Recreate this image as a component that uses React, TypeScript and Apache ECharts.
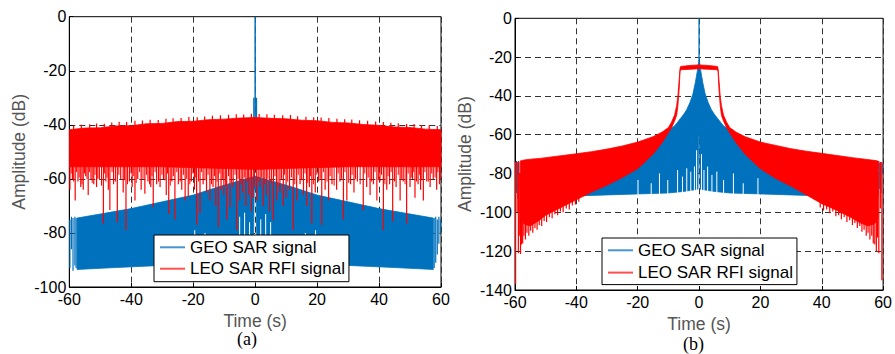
import React, { useEffect, useRef } from "react";
import * as echarts from "echarts";

// ---------------- Panel (a) data ----------------
const A_RED_UPPER_X = [-60, -55, -50, -45, -40, -35, -30, -25, -20, -15, -10, -5, 0, 5, 10, 15, 20, 25, 30, 35, 40, 45, 50, 55, 60];
const A_RED_UPPER = [-41.8, -41.2, -41.1, -40.4, -40.3, -39.6, -39.5, -38.8, -38.7, -38.1, -37.9, -37.5, -37.3, -37.6, -37.8, -38.3, -38.5, -39.1, -39.3, -39.9, -40.2, -40.8, -41, -41.6, -41.8];
const A_RED_LOWER_X = [-60, -30, 0, 30, 60];
const A_RED_LOWER = [-55.5, -55.5, -56.5, -55.5, -55.5];
const A_RED_TOP_X = [-58.6, -56.1, -53.4, -51.2, -48.7, -46.3, -43.9, -41.5, -38.8, -36.4, -33.9, -31.3, -28.8, -26.5, -23.9, -21.4, -18.7, -16.3, -13.8, -11.2, -8.6, -6.1, -3.7, -1.2, 1.3, 3.8, 6.2, 8.9, 11.4, 13.7, 16.4, 18.9, 21.3, 23.8, 26.4, 28.9, 31.2, 33.7, 36.3, 38.9, 41.4, 43.8, 46.2, 48.9, 51.3, 53.7, 56.2, 58.8];
const A_RED_TOP_HIGH = [-40.3, -40.0, -39.8, -39.5, -39.6, -39.1, -38.9, -39.0, -38.5, -38.4, -38.1, -38.2, -37.8, -37.6, -37.5, -37.1, -37.2, -36.9, -36.6, -36.5, -36.3, -36.1, -36.2, -35.9, -36.0, -36.1, -36.3, -36.5, -36.4, -36.8, -37.0, -37.2, -37.3, -37.5, -37.8, -37.9, -38.0, -38.3, -38.5, -38.8, -39.0, -39.2, -39.4, -39.7, -39.7, -40.1, -40.2, -40.4];
const A_RED_SPIKE_X = [-59.8, -59.0, -58.1, -57.2, -56.3, -55.5, -54.7, -53.9, -53.0, -52.1, -51.2, -50.3, -49.0, -48.2, -47.4, -46.9, -45.7, -44.5, -43.4, -42.6, -41.7, -40.6, -39.7, -38.8, -37.9, -36.8, -35.6, -34.6, -33.7, -32.9, -31.8, -30.7, -29.6, -28.7, -27.9, -26.9, -25.9, -24.8, -23.7, -22.6, -21.6, -20.6, -19.6, -18.9, -17.8, -16.8, -15.7, -14.6, -13.6, -12.7, -11.9, -11.0, -10.1, -9.2, -8.1, -7.1, -6.0, -5.0, -4.0, -3.0, -2.1, -1.2, -0.6, 0.5, 1.6, 2.6, 3.6, 4.7, 5.9, 6.9, 8.0, 9.1, 10.0, 11.1, 12.3, 13.4, 14.5, 15.6, 16.6, 17.5, 18.3, 19.4, 20.5, 21.5, 22.6, 23.7, 24.8, 26.3, 27.4, 28.5, 29.6, 30.8, 31.9, 33.0, 34.9, 36.0, 37.1, 38.2, 39.3, 40.3, 41.4, 42.5, 43.4, 44.4, 45.5, 46.8, 47.8, 48.9, 50.0, 50.8, 51.6, 52.6, 53.4, 54.3, 55.4, 56.5, 57.5, 58.6, 59.5];
const A_RED_SPIKE_LOW = [-64, -60, -68, -61, -63, -64, -59, -66, -60, -62, -63, -60, -76.5, -61, -64, -71.5, -62, -76, -60, -65, -79, -61, -63, -68, -60, -64, -65.5, -61, -63, -70.5, -62, -63, -60, -66, -73, -61, -75, -62, -64, -68, -66.7, -61, -64, -77, -72.8, -62, -65, -68, -63, -70, -77.8, -64, -66, -75, -70.4, -63, -79, -68, -65, -70, -66, -72, -67, -68, -63, -70, -66, -72, -75.3, -68, -65, -70, -67, -64, -79, -68, -62, -66, -70, -63, -76.5, -65, -61, -77, -64, -68, -62, -64, -61, -75, -68, -62, -65, -61, -71.6, -63, -66, -62, -68, -61, -79, -64, -62, -75.8, -63, -68, -61, -76.5, -63, -60, -67, -62, -64, -68, -61, -63, -60, -64, -62];
const A_RED_SHALLOW_X = [-59.4, -58.6, -57.7, -56.8, -55.9, -55.1, -54.3, -53.5, -52.6, -51.7, -50.8, -49.6, -48.6, -47.8, -46.2, -45.1, -44.0, -42.2, -41.2, -40.1, -39.2, -38.4, -37.3, -36.2, -35.1, -34.1, -33.3, -32.3, -31.2, -30.1, -29.1, -28.3, -27.4, -26.4, -25.3, -24.2, -23.1, -22.1, -21.1, -20.1, -19.2, -18.3, -17.3, -16.2, -15.2, -14.1, -13.1, -12.3, -11.4, -10.5, -9.6, -8.6, -7.6, -6.5, -5.5, -4.5, -3.5, -2.5, -1.6, -0.2, 1.0, 2.1, 3.1, 4.1, 5.3, 6.4, 7.4, 8.5, 9.5, 10.5, 11.7, 12.8, 13.9, 15.0, 16.1, 17.0, 17.9, 18.8, 19.9, 21.0, 22.1, 23.2, 24.2, 25.5, 26.8, 27.9, 29.0, 30.2, 31.3, 32.4, 33.9, 35.4, 36.5, 37.6, 38.7, 39.8, 40.8, 41.9, 42.9, 43.9, 45.0, 46.2, 47.3, 48.4, 49.4, 50.4, 51.2, 52.1, 53.0, 53.8, 54.8, 55.9, 57.0, 58.1, 59.0, 59.8];
const A_RED_SHALLOW_LOW = [-58, -61, -57.5, -59.5, -62, -58, -60, -57.5, -61.5, -58.5, -60, -62.5, -58, -59.5, -57.5, -61, -58.5, -60.5, -62, -58, -59, -61.5, -57.5, -60, -58.5, -62, -59, -57.5, -61, -58.5, -60.5, -58, -62.5, -59, -57.5, -61, -58.5, -60, -62, -58, -59.5, -61, -57.5, -60.5, -58.5, -62, -59, -61, -58, -60, -62.5, -59, -61.5, -58.5, -60, -62, -59.5, -61, -60, -63, -61, -59.5, -62, -60, -61.5, -59, -62.5, -60, -58.5, -61, -59.5, -62, -58.5, -60.5, -58, -61.5, -59, -62, -58.5, -60, -57.5, -61, -59, -62.5, -58, -60, -57.5, -61.5, -58.5, -60, -62, -58, -59.5, -61, -57.5, -60.5, -58.5, -62, -59, -57.5, -61, -58.5, -60, -62, -58, -59.5, -57.5, -61, -58.5, -60.5, -57.5, -61, -58, -59.5, -57.5, -60];
const A_RED_SPIKE_FROM = -54;
const A_BLUE_UPPER_X = [-57.5, -50, -40, -30, -20, -12, -6, 0, 6, 12, 20, 30, 40, 50, 57.5];
const A_BLUE_UPPER = [-74.5, -73, -71, -68.5, -66, -63, -61, -59, -61, -63, -66, -68.5, -71, -73, -74.5];
const A_BLUE_LOWER_X = [-57.5, -45, -30, -15, -0.6, -0.3, 0.3, 0.6, 15, 30, 45, 57.5];
const A_BLUE_LOWER = [-93.5, -92.8, -92, -91.2, -90.5, -64, -64, -90.5, -91.2, -92, -92.8, -93.5];
const A_BLUE_EDGE_X = [-59.8, -59.3, -58.8, -58.2, -57.8, 57.8, 58.3, 58.8, 59.3, 59.8];
const A_BLUE_EDGE_TOP = [-75, -74, -74.5, -74, -74.5, -74.5, -74, -75, -74, -75];
const A_BLUE_EDGE_LOW = [-93, -86, -94, -92, -93, -93, -91, -88, -84, -80];
const A_BLUE_GAP_X = [-19.5, -16.2, -5.0, -3.4, -1.8, 1.8, 3.4, 5.0, 16.2, 19.5];
const A_BLUE_GAP_TOP = [-79, -80, -74, -72.5, -76, -75, -73, -76, -80, -79];
const A_BLUE_GAP_LOW = [-82, -82, -82, -82, -82, -82, -82, -82, -82, -82];
const A_PEAK_X = [0, -0.4, 0.4];
const A_PEAK_LOW = [-37, -37.5, -37.5];
const A_PEAK_HIGH = [0, -30, -30];

// ---------------- Panel (b) data ----------------
const B_RED_X = [-58.3, -57, -55, -52, -50, -45, -40, -35, -30, -25, -20, -15, -12, -10, -9, -8, -7.3, -6.9, -6.5, -6.2, -6, -3, 0, 3, 6, 6.2, 6.5, 6.9, 7.3, 8, 9, 10, 12, 15, 20, 25, 30, 35, 40, 45, 50, 52, 55, 57, 58.3];
const B_RED_UPPER = [-73.5, -73, -72.6, -72.2, -71.8, -70.8, -69.8, -68.7, -67.4, -65.8, -63.8, -61, -58.6, -56.3, -53.6, -50, -45, -40, -32, -25.8, -24.8, -24.3, -24, -24.3, -24.8, -25.8, -32, -40, -45, -50, -53.6, -56.3, -58.6, -61, -63.8, -65.5, -67.2, -68.5, -69.6, -70.7, -71.8, -72.2, -72.8, -73.2, -73.5];
const B_RED_LOWER = [-104, -106, -107, -104, -101.5, -97.5, -93.5, -89.5, -86, -82, -77.5, -70, -64, -59, -56.5, -53, -50, -45, -37, -27.5, -26.5, -26.3, -26, -26.3, -26.5, -27.5, -37, -45, -50, -53, -56.5, -59, -64, -70, -77.5, -82.5, -86.5, -91, -95.5, -99, -103, -105, -107, -106, -104];
const B_RED_SPIKE_X = [-59.8, -59.3, -58.9, -58.6, -58.2, -57.9, -57.5, -57.1, -56.6, -56.1, -55.5, -54.9, -54.2, -53.5, -52.8, -52.1, -51.3, -50.5, -49.7, -48.8, -47.9, -47.0, -46.1, -45.2, -44.3, -43.3, -42.3, -41.3, -40.3, -39.2, 39.5, 40.6, 41.6, 42.6, 43.6, 44.6, 45.5, 46.4, 47.3, 48.2, 49.1, 50.0, 50.8, 51.6, 52.4, 53.1, 53.8, 54.5, 55.1, 55.7, 56.3, 56.8, 57.3, 57.8, 58.2, 58.6, 59.1, 59.6];
const B_RED_SPIKE_TOP = [-74, -74, -73.5, -80, -80, -90, -100, -100, -100, -100, -100, -100, -100, -100, -98, -98, -96, -96, -95, -94, -93, -92, -92, -91, -90, -90, -89, -88, -88, -87, -88, -89, -90, -91, -92, -93, -94, -95, -96, -97, -98, -99, -100, -100, -101, -102, -102, -103, -104, -104, -104, -100, -90, -80, -80, -73.5, -74, -74];
const B_RED_SPIKE_LOW = [-137, -100, -121, -112, -121.5, -116.5, -116, -112, -114, -110.5, -112, -109.5, -110.5, -108, -109, -106.5, -107, -104.5, -105, -102.5, -103, -101, -101.5, -99.5, -100, -98, -98.5, -96.5, -96, -94.5, -97.5, -99, -98.5, -100.5, -99.5, -102, -101.5, -103.5, -102.5, -105, -104, -106.5, -105.5, -108, -107, -110, -109, -112, -110.5, -114, -112, -116, -116.5, -120.2, -113, -121, -98, -135];
const B_BLUE_UPPER_X = [-57.5, -40, -30, -20, -15, -12, -10, -8, -7, -6, -5, -4, -3, -2, -1.2, -0.6, -0.2, 0, 0.2, 0.6, 1.2, 2, 3, 4, 5, 6, 7, 8, 10, 12, 15, 20, 30, 40, 57.5];
const B_BLUE_UPPER = [-75, -72, -70, -67, -63.5, -60.5, -57.5, -55.5, -53.5, -51.5, -49.5, -47, -43.5, -39, -33, -27.5, -23, -21.5, -23, -27.5, -33, -39, -43.5, -47, -49.5, -51.5, -53.5, -55.5, -57.5, -60.5, -63.5, -67, -70, -72, -75];
const B_BLUE_LOWER_X = [-57.5, -50, -40, -30, -20, -10, -5, -2, -0.35, -0.15, 0.15, 0.35, 2, 5, 10, 20, 30, 40, 50, 57.5];
const B_BLUE_LOWER = [-93, -92.5, -91.5, -91, -90.5, -90, -89.2, -88.5, -88, -61, -61, -88, -88.5, -89.2, -90, -90.5, -91, -91.5, -92.5, -93];
const B_BLUE_GAP_X = [-19.9, -15.6, -12.9, -10.2, -7.0, -5.4, -4.0, -2.7, -1.5, -0.8, 0.8, 1.6, 2.8, 4.2, 5.8, 8.0, 11.2, 14.4, 19.2];
const B_BLUE_GAP_TOP = [-83.3, -85, -79.9, -83.3, -78.2, -81.6, -77.3, -79, -76.4, -68, -70, -78.2, -76.4, -80.7, -79, -83.3, -79.9, -85, -82.4];
const B_BLUE_GAP_LOW = [-92, -92, -92, -92, -92, -92, -92, -92, -92, -92, -92, -92, -92, -92, -92, -92, -92, -92, -92];
const B_BLUE_EDGE_X = [-59.9, -59.5, -59.1, -58.7, 57.9, 58.4, 58.9, 59.3, 59.8];
const B_BLUE_EDGE_TOP = [-74, -73.5, -75, -74, -74, -73.5, -74.5, -74, -75];
const B_BLUE_EDGE_LOW = [-93, -90, -93, -88, -93, -92, -88, -90, -80];
const B_PEAK_X = [0];
const B_PEAK_LOW = [-22];
const B_PEAK_HIGH = [0];

// ---------------- Axes / labels ----------------
const X_MIN = -60, X_MAX = 60, X_STEP = 20;
const A_Y_MIN = -100, B_Y_MIN = -140, Y_MAX = 0, Y_STEP = 20;
const GEO = "GEO SAR signal";
const LEO = "LEO SAR RFI signal";
const BLUE = "#0072BD";
const RED = "#FF0000";
const BLUE_KEY = "#4A94D2";
const RED_KEY = "#FF5050";
const FONT = '"Liberation Sans", Arial, Helvetica, sans-serif';
const SERIF = '18px "Liberation Serif", "Times New Roman", serif';

function zip(xs: number[], ys: number[]) {
  return xs.map((x, i) => [x, ys[i]]);
}

function band(name: string, gi: number, ux: number[], uy: number[], lx: number[], ly: number[], color: string) {
  const pts = [...zip(ux, uy), ...zip(lx, ly).reverse()];
  return {
    type: "custom",
    name,
    xAxisIndex: gi,
    yAxisIndex: gi,
    clip: true,
    silent: true,
    itemStyle: { color },
    data: pts,
    encode: { x: 0, y: 1 },
    renderItem: (params: any, api: any) => {
      if (params.dataIndex !== 0) return null;
      const points = pts.map((p) => api.coord(p));
      return { type: "polygon", shape: { points }, style: { fill: color, stroke: color, lineWidth: 0.8 } };
    },
  };
}

function segs(name: string, gi: number, xs: number[], a: number[], b: number[], color: string, width: number) {
  return {
    type: "custom",
    name,
    xAxisIndex: gi,
    yAxisIndex: gi,
    clip: true,
    silent: true,
    itemStyle: { color },
    data: xs.map((x, i) => [x, a[i], b[i]]),
    encode: { x: 0, y: [1, 2] },
    renderItem: (params: any, api: any) => {
      const p1 = api.coord([api.value(0), api.value(1)]);
      const p2 = api.coord([api.value(0), api.value(2)]);
      return { type: "line", shape: { x1: p1[0], y1: p1[1], x2: p2[0], y2: p2[1] }, style: { stroke: color, lineWidth: width } };
    },
  };
}

function xAxis(gi: number, gap: number) {
  return {
    type: "value",
    gridIndex: gi,
    min: X_MIN,
    max: X_MAX,
    interval: X_STEP,
    name: "Time (s)",
    nameLocation: "middle",
    nameGap: gap,
    nameTextStyle: { fontFamily: FONT, fontSize: 17.5, color: "#555", lineHeight: 16 },
    axisLine: { show: true, onZero: false, lineStyle: { color: "#000", width: 1 } },
    axisTick: { show: true, inside: true, length: 4, lineStyle: { color: "#000" } },
    axisLabel: { fontFamily: FONT, fontSize: 16, color: "#000", margin: 4 },
    splitLine: { show: true, lineStyle: { color: "#333", type: [6, 4], width: 1 } },
  };
}

function yAxis(gi: number, min: number) {
  return {
    type: "value",
    gridIndex: gi,
    min,
    max: Y_MAX,
    interval: Y_STEP,
    name: "Amplitude (dB)",
    nameLocation: "middle",
    nameGap: 41,
    nameTextStyle: { fontFamily: FONT, fontSize: 17.5, color: "#555" },
    axisLine: { show: true, onZero: false, lineStyle: { color: "#000", width: 1 } },
    axisTick: { show: true, inside: true, length: 4, lineStyle: { color: "#000" } },
    axisLabel: { fontFamily: FONT, fontSize: 16, color: "#000", margin: 3 },
    splitLine: { show: true, lineStyle: { color: "#333", type: [6, 4], width: 1 } },
  };
}

function legend(left: number, top: number, gap: number, pad: number[]) {
  return {
    data: [
      { name: GEO, itemStyle: { color: BLUE_KEY } },
      { name: LEO, itemStyle: { color: RED_KEY } },
    ],
    orient: "vertical",
    left,
    top,
    padding: pad,
    itemGap: gap,
    itemWidth: 25,
    itemHeight: 2,
    icon: "rect",
    selectedMode: false,
    borderColor: "#000",
    borderWidth: 1,
    backgroundColor: "#fff",
    textStyle: { fontFamily: FONT, fontSize: 17, color: "#000", lineHeight: 18 },
  };
}

function buildOption() {
  return {
    animation: false,
    backgroundColor: "#fff",
    grid: [
      { left: 69.3, top: 16.7, width: 371.7, height: 270.3, show: true, borderColor: "#000", borderWidth: 1, backgroundColor: "#fff" },
      { left: 515, top: 18.3, width: 373.7, height: 271.7, show: true, borderColor: "#000", borderWidth: 1, backgroundColor: "#fff" },
    ],
    xAxis: [xAxis(0, 25.5), xAxis(1, 26)],
    yAxis: [yAxis(0, A_Y_MIN), yAxis(1, B_Y_MIN)],
    legend: [legend(154, 235, 3.4, [3.3, 4, 4, 6]), legend(602, 238, 4.3, [3.3, 4, 3, 6])],
    graphic: [
      { type: "text", left: 237, top: 330, style: { text: "(a)", font: SERIF, fill: "#000" } },
      { type: "text", left: 683, top: 335, style: { text: "(b)", font: SERIF, fill: "#000" } },
    ],
    series: [
      // panel (a)
      band(GEO, 0, A_BLUE_UPPER_X, A_BLUE_UPPER, A_BLUE_LOWER_X, A_BLUE_LOWER, BLUE),
      segs(GEO, 0, A_BLUE_EDGE_X, A_BLUE_EDGE_TOP, A_BLUE_EDGE_LOW, BLUE, 1.2),
      segs("gapA", 0, A_BLUE_GAP_X, A_BLUE_GAP_TOP, A_BLUE_GAP_LOW, "#ffffff", 1),
      segs(GEO, 0, A_PEAK_X, A_PEAK_LOW, A_PEAK_HIGH, BLUE, 1.5),
      band(LEO, 0, A_RED_UPPER_X, A_RED_UPPER, A_RED_LOWER_X, A_RED_LOWER, RED),
      segs(LEO, 0, A_RED_TOP_X, A_RED_TOP_HIGH.map(() => A_RED_SPIKE_FROM + 12), A_RED_TOP_HIGH, RED, 1.2),
      segs(LEO, 0, A_RED_SHALLOW_X, A_RED_SHALLOW_X.map(() => A_RED_SPIKE_FROM), A_RED_SHALLOW_LOW, RED, 1),
      segs(LEO, 0, A_RED_SPIKE_X, A_RED_SPIKE_X.map(() => A_RED_SPIKE_FROM), A_RED_SPIKE_LOW, RED, 1.2),
      // panel (b)
      band(GEO, 1, B_BLUE_UPPER_X, B_BLUE_UPPER, B_BLUE_LOWER_X, B_BLUE_LOWER, BLUE),
      segs(GEO, 1, B_BLUE_EDGE_X, B_BLUE_EDGE_TOP, B_BLUE_EDGE_LOW, BLUE, 1.2),
      segs("gapB", 1, B_BLUE_GAP_X, B_BLUE_GAP_TOP, B_BLUE_GAP_LOW, "#ffffff", 1),
      segs(GEO, 1, B_PEAK_X, B_PEAK_LOW, B_PEAK_HIGH, BLUE, 1.3),
      band(LEO, 1, B_RED_X, B_RED_UPPER, B_RED_X, B_RED_LOWER, RED),
      segs(LEO, 1, B_RED_SPIKE_X, B_RED_SPIKE_TOP, B_RED_SPIKE_LOW, RED, 1.2),
    ],
  };
}

export default function App() {
  const ref = useRef<HTMLDivElement>(null);
  useEffect(() => {
    if (!ref.current) return;
    const chart = echarts.init(ref.current, null, { renderer: "svg" });
    chart.setOption(buildOption() as any);
    return () => chart.dispose();
  }, []);
  return (
    <div
      ref={ref}
      style={{ position: "fixed", left: 0, top: 0, width: 895, height: 354, background: "#fff" }}
    />
  );
}
